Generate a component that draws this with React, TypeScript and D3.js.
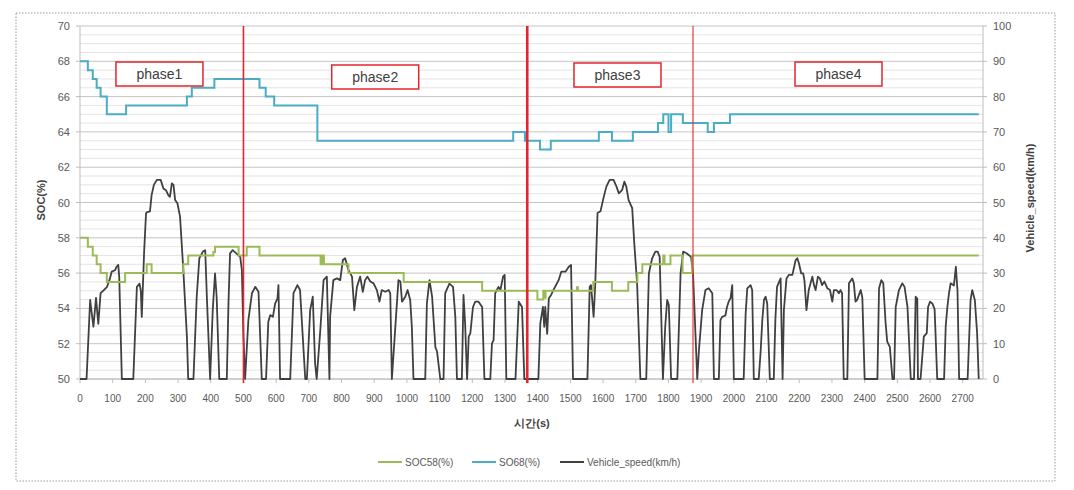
import React from "react";
import * as d3 from "d3";

// ---------- DATA ----------
const xTicks = d3.range(0, 2701, 100);
const leftTicks = [50, 52, 54, 56, 58, 60, 62, 64, 66, 68, 70];
const rightTicks = [0, 10, 20, 30, 40, 50, 60, 70, 80, 90, 100];

// SO68(%) step series [time s, SOC %]
const so68: [number, number][] = [
  [0, 68], [24, 67.5], [39, 67], [51, 66.5], [63, 66], [82, 65], [141, 65.5],
  [327, 66], [342, 66.5], [411, 67], [549, 66.5], [568, 66], [594, 65.5],
  [726, 63.5], [1325, 64], [1361, 63.5], [1407, 63], [1440, 63.5], [1587, 64],
  [1627, 63.5], [1691, 64], [1768, 64.5], [1784, 65], [1800, 64], [1808, 65],
  [1844, 64.5], [1920, 64], [1939, 64.5], [1988, 65], [2749, 65],
];

// SOC58(%) step series [time s, SOC %]
const soc58: [number, number][] = [
  [0, 58], [24, 57.5], [39, 57], [51, 56.5], [63, 56], [82, 55.5], [138, 56],
  [204, 56.5], [219, 56], [316, 56.5], [331, 57], [408, 57.2], [413, 57.5],
  [485, 57], [510, 57.5], [549, 57], [736, 56.5], [742, 57], [746, 56.5],
  [821, 56], [990, 55.5], [1230, 55], [1399, 54.5], [1417, 55], [1420, 54.6],
  [1424, 55], [1520, 55.2], [1523, 55], [1570, 55.5], [1627, 55], [1677, 55.5],
  [1705, 56], [1720, 56.5], [1784, 57], [1788, 56.5], [1806, 57], [1843, 56],
  [1873, 57], [2749, 57],
];

// Vehicle_speed(km/h) [time s, km/h]
const speed: [number, number][] = [
  [0, 0], [20, 0], [31, 22.4], [41, 14.8], [49, 23], [56, 15.6], [63, 24.3], [73, 25.2],
  [82, 26], [90, 28], [97, 30.4], [107, 30.8], [112, 31.8], [117, 32.3], [120, 29], [128, 0],
  [163, 0], [174, 26.1], [182, 27], [186, 25], [189, 17.6], [196, 35.7], [202, 47], [206, 47.3],
  [214, 47.5], [219, 52.1], [226, 55], [235, 56.4], [247, 56.4], [255, 54], [263, 53.5],
  [270, 52.1], [275, 51.6], [281, 55.4], [286, 55], [291, 50.7], [298, 49.8], [306, 46],
  [316, 30.9], [327, 12], [331, 0], [347, 0], [357, 23.3], [365, 34.2], [376, 36.1], [383, 36.5],
  [388, 23.3], [398, 0], [406, 19.5], [413, 29.9], [418, 23.3], [426, 0], [449, 0], [454, 21],
  [459, 35.6], [467, 36.5], [478, 35.6], [490, 34.6], [495, 31], [500, 12], [505, 0],
  [515, 16.7], [526, 24.3], [536, 26.1], [546, 24.7], [556, 0], [569, 0], [576, 16.2],
  [582, 18.1], [590, 17.6], [597, 21.4], [604, 22.8], [607, 26.6], [612, 0], [643, 0],
  [653, 24.3], [665, 26.6], [673, 25.2], [689, 0], [694, 0], [704, 19.5], [712, 23.3],
  [719, 4.5], [724, 0], [735, 13.8], [745, 28], [755, 29], [763, 0], [765, 17.6], [775, 28],
  [786, 28.5], [796, 28], [804, 33.7], [811, 34.2], [821, 30.9], [832, 29], [839, 19.5],
  [847, 26.1], [857, 29], [865, 24.7], [872, 28], [879, 29], [888, 27.6], [898, 27.1],
  [908, 25.2], [916, 21.9], [923, 25.2], [934, 24.7], [944, 25.2], [949, 24.3], [954, 0],
  [974, 28], [980, 27.6], [985, 21.9], [995, 23.3], [1002, 25.2], [1010, 22.4], [1015, 14.8],
  [1020, 0], [1056, 0], [1061, 21.4], [1069, 28], [1077, 23.3], [1087, 9], [1092, 7.8],
  [1102, 0], [1112, 0], [1117, 24.3], [1130, 27], [1141, 26.1], [1148, 17.6], [1153, 0],
  [1168, 0], [1173, 23.8], [1178, 15.6], [1184, 0], [1189, 12], [1194, 13], [1202, 20.4],
  [1209, 21.9], [1219, 21.9], [1230, 20.4], [1237, 0], [1255, 0], [1260, 10], [1265, 11],
  [1270, 24.3], [1280, 26.1], [1286, 25.2], [1294, 29], [1299, 29.5], [1304, 0], [1332, 0],
  [1342, 21.9], [1352, 20.4], [1359, 0], [1402, 0], [1408, 15.8], [1416, 20.4], [1420, 14.8],
  [1423, 20.4], [1429, 12.8], [1434, 22.9], [1441, 23.8], [1448, 25.2], [1464, 28],
  [1472, 30.4], [1485, 30.4], [1495, 31.8], [1502, 32.3], [1508, 0], [1552, 0], [1559, 26.1],
  [1563, 26.6], [1571, 17.6], [1576, 26.8], [1583, 47], [1592, 47.5], [1602, 51.6],
  [1610, 54.5], [1620, 56.4], [1632, 56.4], [1641, 54.5], [1648, 52.6], [1658, 53.5],
  [1665, 55.9], [1671, 54.5], [1678, 50.7], [1689, 48.4], [1696, 37.5], [1704, 27.1],
  [1714, 0], [1732, 0], [1740, 29.9], [1750, 34.2], [1760, 36.1], [1767, 36.1], [1773, 34.6],
  [1783, 0], [1790, 14.8], [1796, 22.4], [1801, 21], [1808, 0], [1827, 0], [1837, 30],
  [1845, 36.1], [1855, 35.6], [1869, 34.6], [1875, 30], [1888, 0], [1893, 8], [1903, 19.5],
  [1913, 25.2], [1923, 25.7], [1934, 24.3], [1939, 0], [1954, 0], [1959, 16.7], [1964, 17.6],
  [1974, 18], [1979, 20.4], [1984, 21.9], [1990, 23], [1995, 26.6], [2000, 0], [2030, 0],
  [2036, 18.5], [2041, 25.7], [2051, 26.6], [2056, 25.2], [2061, 0], [2076, 0], [2082, 8],
  [2087, 16.7], [2092, 22.4], [2097, 23.3], [2102, 21.4], [2110, 0], [2122, 0], [2127, 17],
  [2132, 26.1], [2143, 28.5], [2149, 0], [2153, 19.5], [2161, 28.5], [2168, 29.5],
  [2179, 29.5], [2189, 33.7], [2194, 34.2], [2199, 32.8], [2206, 29.9], [2212, 29.9],
  [2216, 27.8], [2222, 19.5], [2229, 25.2], [2240, 29], [2245, 26.6], [2250, 25.2],
  [2257, 29], [2263, 28.5], [2270, 26.6], [2277, 27.6], [2286, 25.7], [2294, 25.2],
  [2301, 21.9], [2306, 25.2], [2314, 25.2], [2321, 24.3], [2326, 25.2], [2331, 24.3],
  [2336, 0], [2347, 0], [2352, 27.1], [2362, 28.5], [2367, 27.1], [2372, 21.9], [2377, 22.4],
  [2388, 25.2], [2393, 23], [2400, 0], [2439, 0], [2444, 25.7], [2451, 28], [2457, 27.1],
  [2464, 16], [2469, 10.6], [2477, 9.1], [2485, 0], [2490, 0], [2495, 20.4], [2505, 25.2],
  [2515, 27.1], [2522, 26.1], [2531, 20.4], [2541, 0], [2551, 0], [2556, 23.3], [2561, 22.8],
  [2563, 0], [2571, 0], [2581, 12], [2590, 13], [2594, 20.4], [2600, 21.9], [2607, 21.4],
  [2614, 19.8], [2622, 0], [2643, 0], [2648, 15], [2653, 20.4], [2658, 24.3], [2663, 27.1],
  [2673, 26.5], [2679, 31.8], [2684, 25], [2689, 0], [2715, 0], [2724, 22.4], [2729, 25.2],
  [2737, 22.4], [2744, 13], [2749, 0],
];

const phaseBounds = [500, 1368, 1875];
const phaseWidths = [1.6, 2.6, 1.1];
const phaseLabels = ["phase1", "phase2", "phase3", "phase4"];
const phaseLabelT = [243, 903, 1644, 2320];
const phaseLabelY = [62, 65, 63, 62];

const legendItems = [
  { name: "SOC58(%)", color: "#9bbb59" },
  { name: "SO68(%)", color: "#4bacc6" },
  { name: "Vehicle_speed(km/h)", color: "#404040" },
];

// ---------- CHART ----------
const W = 1074, H = 490;
const M = { left: 80, right: 983, top: 26, bottom: 379 };

export default function App() {
  const x = d3.scaleLinear().domain([0, 2762]).range([M.left, M.right]);
  const yL = d3.scaleLinear().domain([50, 70]).range([M.bottom, M.top]);
  const yR = d3.scaleLinear().domain([0, 100]).range([M.bottom, M.top]);

  const stepLine = d3
    .line<[number, number]>()
    .x((d) => x(d[0]))
    .y((d) => yL(d[1]))
    .curve(d3.curveStepAfter);
  const speedLine = d3
    .line<[number, number]>()
    .x((d) => x(d[0]))
    .y((d) => yR(d[1]))
    .curve(d3.curveLinear);

  const minor = d3.range(50, 70.01, 0.5).filter((v) => Math.abs(v % 2) > 0.01);
  const font = "'Liberation Sans', Arial, sans-serif";
  const narrow = "'Liberation Sans Narrow', 'Liberation Sans', Arial, sans-serif";

  const legendX = [378, 472, 560];

  return (
    <svg
      width={W}
      height={H}
      style={{ position: "absolute", left: 0, top: 0, background: "#fff" }}
    >
      <rect x={0} y={0} width={W} height={H} fill="#fff" />
      <rect
        x={16}
        y={13}
        width={1039}
        height={468}
        fill="none"
        stroke="#9a9a9a"
        strokeWidth={1}
        strokeDasharray="1.5,1.5"
      />
      {/* minor grid */}
      {minor.map((v) => (
        <line key={"mi" + v} x1={M.left} x2={M.right} y1={yL(v)} y2={yL(v)} stroke="#e4e4e4" strokeWidth={1} />
      ))}
      {/* major grid */}
      {leftTicks.map((v) => (
        <line key={"ma" + v} x1={M.left} x2={M.right} y1={yL(v)} y2={yL(v)} stroke="#c4c4c4" strokeWidth={1} />
      ))}
      {/* axes */}
      <line x1={M.left} x2={M.left} y1={M.top} y2={M.bottom} stroke="#bdbdbd" />
      <line x1={M.right} x2={M.right} y1={M.top} y2={M.bottom} stroke="#bdbdbd" />
      <line x1={M.left} x2={M.right} y1={M.bottom} y2={M.bottom} stroke="#bdbdbd" />
      {leftTicks.map((v) => (
        <g key={"lt" + v}>
          <line x1={M.left - 4} x2={M.left} y1={yL(v)} y2={yL(v)} stroke="#bdbdbd" />
          <text x={70} y={yL(v) + 4} textAnchor="end" fontSize={11} fontFamily={font} fill="#595959">
            {v}
          </text>
        </g>
      ))}
      {rightTicks.map((v) => (
        <g key={"rt" + v}>
          <line x1={M.right} x2={M.right + 4} y1={yR(v)} y2={yR(v)} stroke="#bdbdbd" />
          <text x={993} y={yR(v) + 4} textAnchor="start" fontSize={11} fontFamily={font} fill="#595959">
            {v}
          </text>
        </g>
      ))}
      {xTicks.map((t) => (
        <g key={"xt" + t}>
          <line x1={x(t)} x2={x(t)} y1={M.bottom} y2={M.bottom + 4} stroke="#bdbdbd" />
          <text x={x(t)} y={402} textAnchor="middle" fontSize={10} fontFamily={narrow} fill="#595959">
            {t}
          </text>
        </g>
      ))}
      {/* axis titles */}
      <text
        transform="translate(45,200) rotate(-90)"
        textAnchor="middle"
        fontSize={11}
        fontWeight="bold"
        fontFamily={font}
        fill="#404040"
      >
        SOC(%)
      </text>
      <text
        transform="translate(1034,198) rotate(-90)"
        textAnchor="middle"
        fontSize={11}
        fontWeight="bold"
        fontFamily={font}
        fill="#404040"
      >
        Vehicle_speed(km/h)
      </text>
      <text x={532} y={427} textAnchor="middle" fontSize={11} fontWeight="bold" fontFamily={font} fill="#404040">
        시간(s)
      </text>

      {/* series */}
      <path d={speedLine(speed) || ""} fill="none" stroke="#404040" strokeWidth={1.8} strokeLinejoin="round" />
      <path d={stepLine(soc58) || ""} fill="none" stroke="#9bbb59" strokeWidth={2} />
      <path d={stepLine(so68) || ""} fill="none" stroke="#4bacc6" strokeWidth={2} />

      {/* phase boundaries */}
      {phaseBounds.map((t, i) => (
        <line key={"pb" + t} x1={x(t)} x2={x(t)} y1={M.top} y2={M.bottom + 4} stroke="#e3262e" strokeWidth={phaseWidths[i]} />
      ))}
      {phaseLabels.map((p, i) => (
        <g key={p}>
          <rect
            x={x(phaseLabelT[i]) - 43.5}
            y={phaseLabelY[i]}
            width={87}
            height={24}
            fill="#fff"
            stroke="#e3262e"
            strokeWidth={1.5}
          />
          <text
            x={x(phaseLabelT[i])}
            y={phaseLabelY[i] + 17}
            textAnchor="middle"
            fontSize={14}
            fontFamily={font}
            fill="#404040"
          >
            {p}
          </text>
        </g>
      ))}

      {/* legend */}
      {legendItems.map((it, i) => (
        <g key={it.name}>
          <line x1={legendX[i]} x2={legendX[i] + 24} y1={462} y2={462} stroke={it.color} strokeWidth={2} />
          <text x={legendX[i] + 27} y={466} fontSize={10} fontFamily={narrow} fill="#595959">
            {it.name}
          </text>
        </g>
      ))}
    </svg>
  );
}
